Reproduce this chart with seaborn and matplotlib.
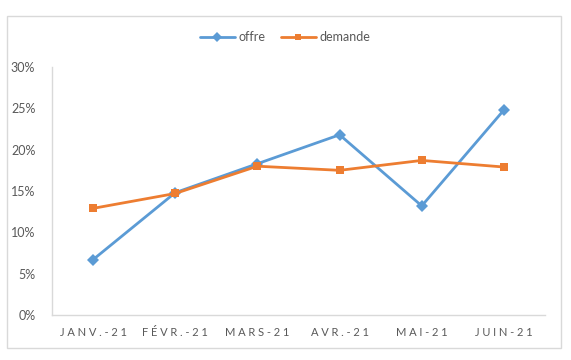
import numpy as np
import pandas as pd
import seaborn as sns
import matplotlib.pyplot as plt
from matplotlib.patches import Rectangle
from matplotlib.ticker import FuncFormatter, FixedLocator

mois = ["JANV.-21", "FÉVR.-21", "MARS-21", "AVR.-21", "MAI-21", "JUIN-21"]
offre = [6.7, 14.8, 18.3, 21.8, 13.2, 24.8]
demande = [12.9, 14.7, 18.0, 17.5, 18.7, 17.9]

df = pd.DataFrame({
    "mois": mois * 2,
    "valeur": offre + demande,
    "serie": ["offre"] * len(mois) + ["demande"] * len(mois),
})

sns.set_style("white")
plt.rcParams["font.family"] = ["Lato", "DejaVu Sans"]

fig = plt.figure(figsize=(5.71, 3.6), dpi=100)
# cadre du graphique
fig.patches.append(Rectangle((7 / 571, 12 / 360), 554 / 571, 332 / 360,
                             transform=fig.transFigure, fill=False,
                             edgecolor="#d9d9d9", linewidth=1))
ax = fig.add_axes([52 / 571, 45 / 360, 493 / 571, 248 / 360])

x = np.arange(len(mois))
df["x"] = np.tile(x, 2)
sns.lineplot(data=df, x="x", y="valeur", hue="serie", style="serie",
             palette={"offre": "#5b9bd5", "demande": "#ed7d31"},
             markers={"offre": "D", "demande": "s"}, dashes=False,
             markersize=6, linewidth=2, markeredgewidth=0, ax=ax)

ax.set_xlim(-0.5, len(mois) - 0.5)
ax.set_ylim(0, 30)
ax.set_yticks(np.arange(0, 31, 5))
ax.yaxis.set_major_formatter(FuncFormatter(lambda v, p: f"{v:.0f}%"))
ax.set_xticks(x)
# étiquettes espacées comme dans Excel
ax.set_xticklabels(["\u2005".join(m) for m in mois])
ax.xaxis.set_minor_locator(FixedLocator(np.arange(-0.5, len(mois), 1)))
ax.tick_params(axis="x", which="major", length=0, pad=9, labelsize=8, labelcolor="#595959")
ax.tick_params(axis="x", which="minor", length=4, color="#d9d9d9", direction="out")
ax.tick_params(axis="y", length=0, pad=12, labelsize=9, labelcolor="#595959")
ax.set_xlabel("")
ax.set_ylabel("")

for s in ["top", "right"]:
    ax.spines[s].set_visible(False)
for s in ["left", "bottom"]:
    ax.spines[s].set_color("#d9d9d9")
    ax.spines[s].set_linewidth(1)

handles, labels = ax.get_legend_handles_labels()
leg = ax.legend(handles, labels, loc="center", bbox_to_anchor=(285 / 571, 323 / 360),
                bbox_transform=fig.transFigure, ncol=2, frameon=False, fontsize=9,
                handlelength=2.8, columnspacing=1.2, handletextpad=0.3,
                labelcolor="#595959")
for h in leg.legend_handles:
    h.set_markersize(5)

fig.savefig("out.png", dpi=100)
